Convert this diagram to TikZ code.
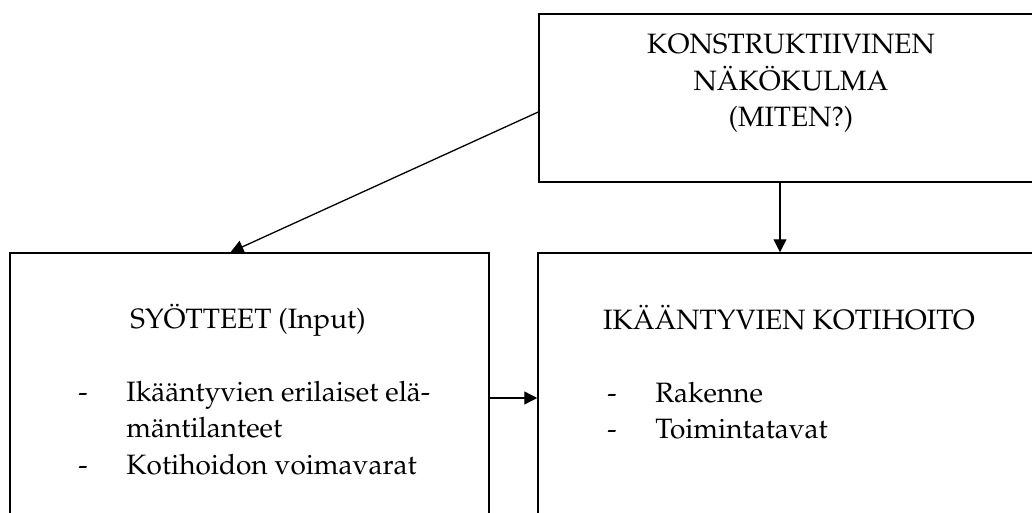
\documentclass[tikz,border=0pt]{standalone}
\usepackage[T1]{fontenc}
\usepackage{mathpazo}
\usetikzlibrary{positioning,arrows.meta,calc}
\tikzset{
  box/.style={draw, line width=0.75pt, inner sep=0pt},
  lbl/.style={inner sep=0pt, anchor=base},
  arr/.style={-{Triangle[length=6.5pt,width=6.5pt]}, line width=0.65pt},
}
\begin{document}
\begin{tikzpicture}[x=0.5pt,y=-0.5pt,font=\fontsize{14}{18.25}\selectfont]
        \useasboundingbox (0,0) rectangle (1032,513);
        \node[box, minimum width=252pt, minimum height=84pt] (kon) at (791,98) {};
        \node[box, minimum width=239.5pt, minimum height=153.5pt] (inp) at (249.5,406.5) {};
        \node[box, minimum width=252.5pt, minimum height=153.5pt] (kot) at (790.5,406.5) {};
        % base of a multi-line node is its last line
        \node[lbl, align=center] (konT) at (791,127)
          {KONSTRUKTIIVINEN\\NÄKÖKULMA\\(MITEN?)};
        \node[lbl] (inpT) at (248,328) {SYÖTTEET (Input)};
        \node[lbl] (kotT) at (789,329) {IKÄÄNTYVIEN KOTIHOITO};
        \node[lbl, anchor=base west] (inpL) at (78,401)
          {\begin{tabular}[t]{@{}p{24pt}@{}l@{}}
            - & Ikääntyvien erilaiset elä-\\
              & mäntilanteet\\
            - & Kotihoidon voimavarat
          \end{tabular}};
        \node[lbl, anchor=base west] (kotL) at (607,402)
          {\begin{tabular}[t]{@{}p{24pt}@{}l@{}}
            - & Rakenne\\
            - & Toimintatavat
          \end{tabular}};
        \coordinate (kW) at ($(kon.west)+(0,14)$);
        \coordinate (kS) at ($(kon.south)+(-11,0)$);
        \coordinate (mid) at (0,398);
        \path (kW) edge [arr] ($(inp.north)+(-19,0)$);
        \path (kS) edge [arr] (kS |- kot.north);
        \path (inp.east |- mid) edge [arr] (kot.west |- mid);
      \end{tikzpicture}
\end{document}
